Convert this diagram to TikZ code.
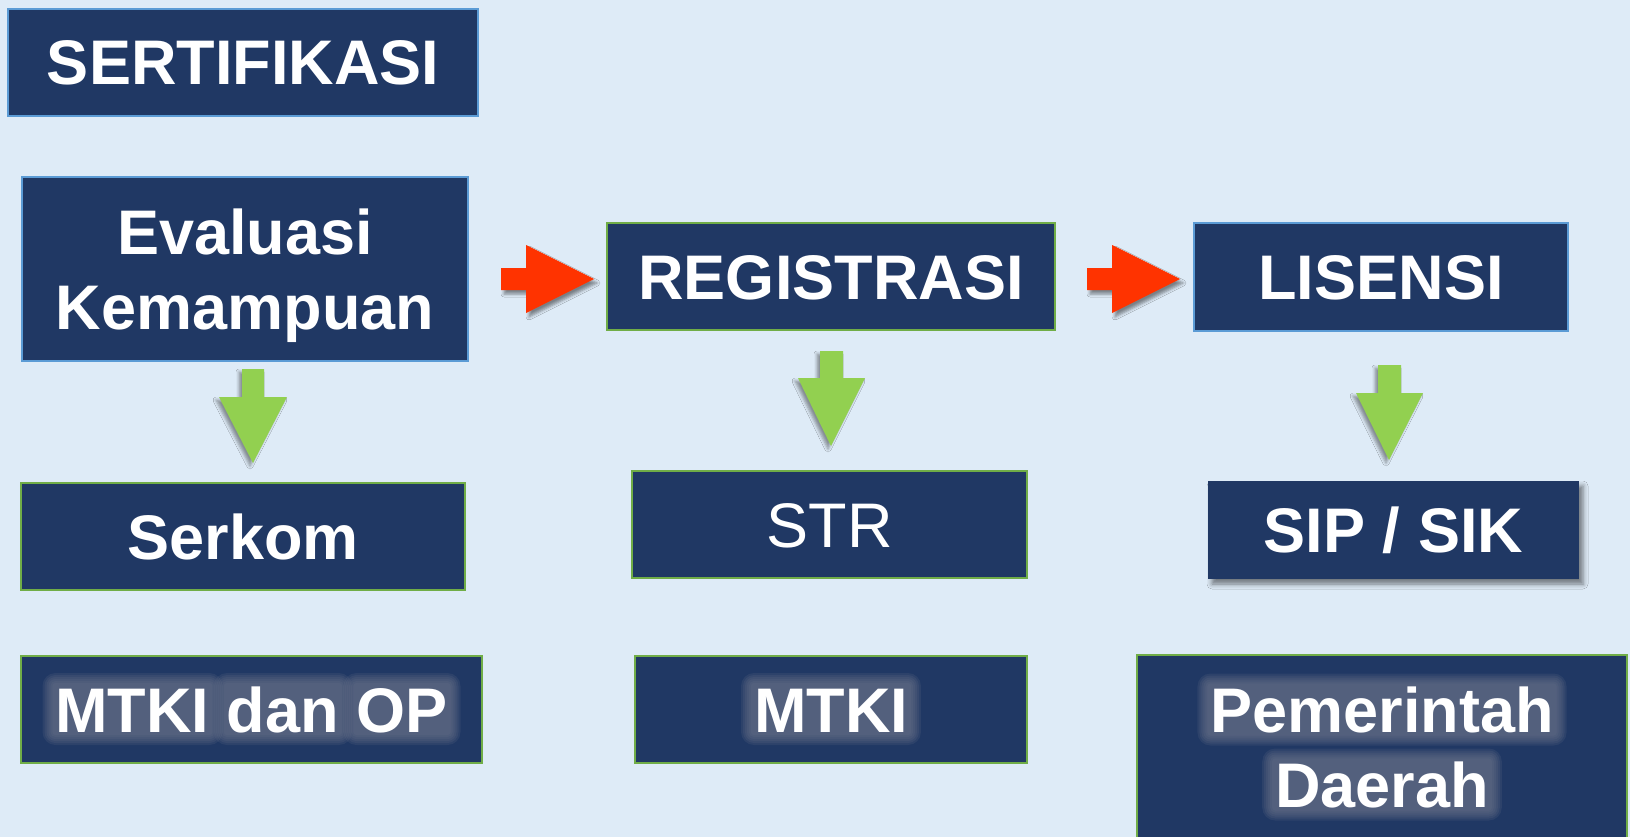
\documentclass[tikz,border=0pt]{standalone}
\usepackage{fontspec}
\setmainfont{Liberation Sans}
\usetikzlibrary{shadows.blur}
\definecolor{bg}{RGB}{222,235,247}
\definecolor{navy}{RGB}{32,56,100}
\definecolor{lblue}{RGB}{91,155,213}
\definecolor{lgreen}{RGB}{112,173,71}
\definecolor{arrred}{RGB}{255,51,0}
\definecolor{arrgreen}{RGB}{146,208,80}
\definecolor{glowfill}{RGB}{114,121,142}
\newcommand\bigfont{\fontsize{63}{75}\selectfont\bfseries}
\newlength\glowwd
\newcommand\glowword[1]{%
  \settowidth{\glowwd}{#1}%
  \rlap{\tikz[x=1pt,y=1pt,baseline=0pt]{%
    \path (0,0) (\glowwd,0);
    \foreach \rr in {3,5,...,13}{\fill[glowfill, fill opacity=0.16, rounded corners=\rr pt, overlay] (-\rr pt,-\rr pt) rectangle (\glowwd+\rr pt,46pt+\rr pt);}%
  }}#1}
\tikzset{
  box/.style={fill=navy, inner sep=0pt, text=white, font=\bigfont, text height=45pt, text depth=0pt, align=center},
  twoline/.style={text height=120pt, text depth=0pt},
  bluebox/.style={box, draw=lblue, line width=1.5pt},
  greenbox/.style={box, draw=lgreen, line width=2pt},
  greenboxthick/.style={box, draw=lgreen, line width=2.6pt},
  shadowbox/.style={box, blur shadow={shadow xshift=4pt, shadow yshift=-5pt, shadow blur radius=5pt, shadow opacity=50}},
  redarrow/.style={fill=arrred, blur shadow={shadow xshift=3pt, shadow yshift=-4pt, shadow blur radius=3pt, shadow opacity=45}},
  greenarrow/.style={fill=arrgreen, blur shadow={shadow xshift=-3pt, shadow yshift=-3pt, shadow blur radius=3pt, shadow opacity=40}}
}
\begin{document}
\begin{tikzpicture}[x=1pt,y=-1pt]
\useasboundingbox (0,0) rectangle (1630,837);
\clip (0,0) rectangle (1630,837);
\fill[bg] (0,0) rectangle (1630,837);
% boxes
\node[bluebox, minimum width=470pt, minimum height=107pt] (sert) at (243,62.5) {SERTIFIKASI};
\node[bluebox, twoline, minimum width=446pt, minimum height=184pt] (eval) at (245,269) {Evaluasi\\Kemampuan};
\node[greenbox, minimum width=448pt, minimum height=107pt] (reg) at (831,276.5) {REGISTRASI};
\node[bluebox, minimum width=374pt, minimum height=108pt] (lis) at (1381,277) {LISENSI};
\node[greenbox, minimum width=444pt, minimum height=107pt] (serkom) at (243,536.5) {Serkom};
\node[greenbox, minimum width=395pt, minimum height=107pt, font=\fontsize{63}{75}\selectfont\mdseries] (str) at (829.5,524.5) {STR};
\node[shadowbox, minimum width=371pt, minimum height=98pt] (sip) at (1393.5,530) {SIP / SIK};
\node[greenboxthick, minimum width=461pt, minimum height=107pt] (mtkiop) at (251.5,709.5) {\glowword{MTKI} \glowword{dan} \glowword{OP}};
\node[greenboxthick, minimum width=392pt, minimum height=107pt] (mtki) at (831,709.5) {\glowword{MTKI}};
\node[greenboxthick, twoline, minimum width=490pt, minimum height=185pt] (pem) at (1382,747.5) {\glowword{Pemerintah}\\\glowword{Daerah}};
% red block arrows
\fill[redarrow] (501,268) -- (526,268) -- (526,245) -- (594,279) -- (526,313) -- (526,290) -- (501,290) -- cycle;
\fill[redarrow] (1087,268) -- (1112,268) -- (1112,245) -- (1180,279) -- (1112,313) -- (1112,290) -- (1087,290) -- cycle;
% green block arrows
\fill[greenarrow] (242,369) -- (264,369) -- (264,397) -- (287,397) -- (253,463) -- (219,397) -- (242,397) -- cycle;
\fill[greenarrow] (820,351) -- (843,351) -- (843,378) -- (865,378) -- (831,446) -- (798,378) -- (820,378) -- cycle;
\fill[greenarrow] (1378,365) -- (1401,365) -- (1401,393) -- (1423,393) -- (1389,460) -- (1356,393) -- (1378,393) -- cycle;
\end{tikzpicture}
\end{document}
